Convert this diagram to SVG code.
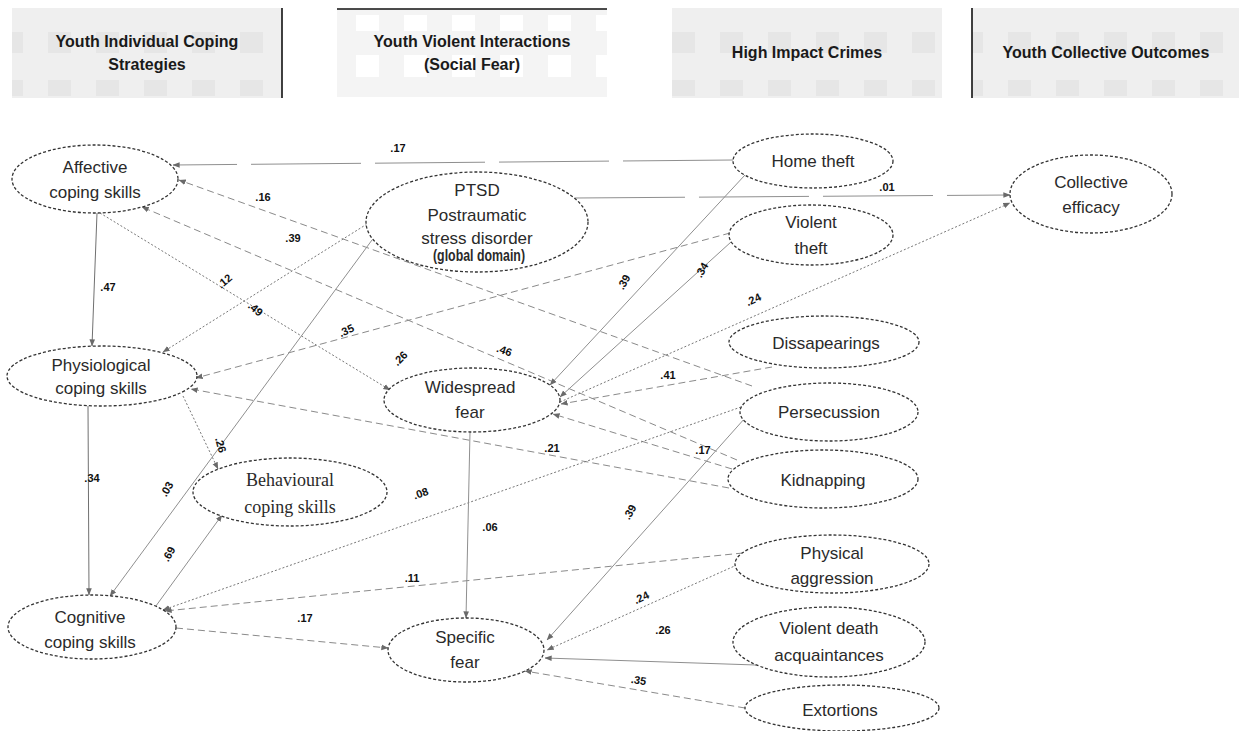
<svg xmlns="http://www.w3.org/2000/svg" width="1239" height="731" viewBox="0 0 1239 731">
<defs>
<pattern id="pg" patternUnits="userSpaceOnUse" x="0" y="0" width="48" height="96">
<rect width="48" height="96" fill="#efefef"/>
<rect x="0" y="32" width="23" height="21" fill="#e6e6e6"/>
<rect x="0" y="80" width="23" height="18" fill="#e6e6e6"/>
</pattern>
<pattern id="pw" patternUnits="userSpaceOnUse" x="20" y="0" width="48" height="96">
<rect width="48" height="96" fill="#f4f4f4"/>
<rect x="0" y="15" width="23" height="16" fill="#ffffff"/>
<rect x="0" y="55" width="23" height="22" fill="#ffffff"/>
</pattern>
<marker id="ah" viewBox="0 0 10 10" refX="9.5" refY="5" markerWidth="7" markerHeight="7" orient="auto">
<path d="M0,1 L10,5 L0,9 z" fill="#6a6a6a"/>
</marker>
</defs>
<style>
.hd{font-family:"Liberation Sans",Arial,sans-serif;font-weight:bold;font-size:16px;fill:#1a1a1a;text-anchor:middle}
.nd ellipse{fill:#ffffff;stroke:#333;stroke-width:1.3;stroke-dasharray:3 2}
.t{font-family:"Liberation Sans",Arial,sans-serif;font-size:17px;fill:#2a2a2a;text-anchor:middle}
.ts{font-family:"Liberation Serif","Times New Roman",serif;font-size:18px;fill:#2a2a2a;text-anchor:middle}
.lb{font-family:"Liberation Sans",Arial,sans-serif;font-size:11px;font-weight:bold;fill:#111;text-anchor:middle}
.c path{fill:none;stroke:#8a8a8a;stroke-width:1;marker-end:url(#ah)}
.c .s{stroke:#8f8f8f}
.c .sd{stroke:#707070}
.c .ld{stroke-dasharray:110 14}
.c .d{stroke-dasharray:7 4}
.c .o{stroke:#777;stroke-dasharray:2 2}
</style>
<rect width="1239" height="731" fill="#ffffff"/>
<g id="headers">
<rect x="12" y="8" width="270" height="90" fill="url(#pg)"/>
<line x1="282" y1="8" x2="282" y2="98" stroke="#111" stroke-width="1.6"/>
<text class="hd" x="147" y="47">Youth Individual Coping</text>
<text class="hd" x="147" y="70">Strategies</text>
<rect x="337" y="9" width="270" height="88" fill="url(#pw)"/>
<line x1="337" y1="9" x2="607" y2="9" stroke="#111" stroke-width="1.6"/>
<text class="hd" x="472" y="47">Youth Violent Interactions</text>
<text class="hd" x="472" y="70">(Social Fear)</text>
<rect x="672" y="8" width="270" height="90" fill="url(#pg)"/>
<text class="hd" x="807" y="58">High Impact Crimes</text>
<rect x="972" y="8" width="267" height="90" fill="url(#pg)"/>
<line x1="972" y1="8" x2="972" y2="98" stroke="#111" stroke-width="1.6"/>
<text class="hd" x="1106" y="58">Youth Collective Outcomes</text>
</g>
<g id="connectors" class="c">
<path class="s ld" d="M733,160 L173,165"/>
<path class="s ld" d="M575,198 L1010,195"/>
<path class="d" d="M752,386 L179,180"/>
<path class="d" d="M737,460 L142,207"/>
<path class="sd" d="M97,213 L92,346"/>
<path class="o" d="M367,224 L163,352"/>
<path class="o" d="M100,213 L390,390"/>
<path class="s" d="M745,175 L550,385"/>
<path class="s" d="M731,242 L560,397"/>
<path class="o" d="M560,402 L1010,203"/>
<path class="d" d="M730,233 L196,378"/>
<path class="d" d="M772,367 L561,404"/>
<path class="d" d="M732,469 L553,414"/>
<path class="d" d="M729,488 L191,389"/>
<path class="sd" d="M88,406 L89,595"/>
<path class="o" d="M183,396 L218,469"/>
<path class="s" d="M372,240 L110,596"/>
<path class="o" d="M741,407 L163,610"/>
<path class="s" d="M470,432 L466,618"/>
<path class="s" d="M770,390 L547,640"/>
<path class="s" d="M153,610 L222,515"/>
<path class="d" d="M743,553 L165,611"/>
<path class="d" d="M176,628 L388,648"/>
<path class="o" d="M748,560 L547,650"/>
<path class="s" d="M756,665 L545,658"/>
<path class="d" d="M745,708 L525,671"/>
</g>
<g id="labels">
<text class="lb" x="398" y="152">.17</text>
<text class="lb" x="887" y="191">.01</text>
<text class="lb" x="263" y="201">.16</text>
<text class="lb" x="293" y="242">.39</text>
<text class="lb" x="108" y="291">.47</text>
<text class="lb" transform="translate(227,284) rotate(-40)">.12</text>
<text class="lb" transform="translate(253,312) rotate(40)">.49</text>
<text class="lb" transform="translate(348,334) rotate(-25)">.35</text>
<text class="lb" transform="translate(403,361) rotate(-45)">.26</text>
<text class="lb" transform="translate(503,354) rotate(20)">.46</text>
<text class="lb" transform="translate(627,284) rotate(-60)">.39</text>
<text class="lb" transform="translate(705,272) rotate(-60)">.34</text>
<text class="lb" transform="translate(755,303) rotate(-25)">.24</text>
<text class="lb" x="668" y="379">.41</text>
<text class="lb" x="552" y="452">.21</text>
<text class="lb" x="703" y="454">.17</text>
<text class="lb" x="92" y="482">.34</text>
<text class="lb" transform="translate(217,446) rotate(75)">.26</text>
<text class="lb" transform="translate(170,491) rotate(-60)">.03</text>
<text class="lb" transform="translate(172,556) rotate(-60)">.69</text>
<text class="lb" transform="translate(422,497) rotate(-20)">.08</text>
<text class="lb" x="490" y="531">.06</text>
<text class="lb" transform="translate(633,514) rotate(-60)">.39</text>
<text class="lb" x="412" y="582">.11</text>
<text class="lb" x="305" y="622">.17</text>
<text class="lb" transform="translate(643,601) rotate(-25)">.24</text>
<text class="lb" x="663" y="634">.26</text>
<text class="lb" transform="translate(638,684) rotate(10)">.35</text>
</g>
<g id="affective" class="nd"><ellipse cx="95" cy="179" rx="83" ry="34"/><text class="t" x="95" y="173">Affective</text><text class="t" x="95" y="198">coping skills</text></g>
<g id="ptsd" class="nd"><ellipse cx="477" cy="222" rx="111" ry="50"/><text class="t" x="477" y="196" font-size="16">PTSD</text><text class="t" x="477" y="221" font-size="16">Postraumatic</text><text class="t" x="477" y="244" font-size="18">stress disorder</text><text class="t" x="479" y="261" font-size="10" font-weight="bold" textLength="92" lengthAdjust="spacingAndGlyphs">(global domain)</text></g>
<g id="home-theft" class="nd"><ellipse cx="813" cy="161" rx="80" ry="27"/><text class="t" x="813" y="167">Home theft</text></g>
<g id="collective-efficacy" class="nd"><ellipse cx="1091" cy="194" rx="81" ry="39"/><text class="t" x="1091" y="188">Collective</text><text class="t" x="1091" y="213">efficacy</text></g>
<g id="violent-theft" class="nd"><ellipse cx="811" cy="235" rx="82" ry="30"/><text class="t" x="811" y="228">Violent</text><text class="t" x="811" y="254">theft</text></g>
<g id="dissapearings" class="nd"><ellipse cx="824" cy="342" rx="95" ry="26"/><text class="t" x="826" y="349">Dissapearings</text></g>
<g id="physiological" class="nd"><ellipse cx="102" cy="376" rx="95" ry="30"/><text class="t" x="101" y="371">Physiological</text><text class="t" x="101" y="394">coping skills</text></g>
<g id="widespread-fear" class="nd"><ellipse cx="472" cy="400" rx="88" ry="32"/><text class="t" x="470" y="393">Widespread</text><text class="t" x="470" y="418">fear</text></g>
<g id="persecussion" class="nd"><ellipse cx="829" cy="412" rx="89" ry="29"/><text class="t" x="829" y="418">Persecussion</text></g>
<g id="kidnapping" class="nd"><ellipse cx="823" cy="479" rx="95" ry="29"/><text class="t" x="823" y="486">Kidnapping</text></g>
<g id="behavioural" class="nd"><ellipse cx="290" cy="492" rx="97" ry="34"/><text class="ts" x="290" y="486">Behavioural</text><text class="ts" x="290" y="513">coping skills</text></g>
<g id="physical-aggression" class="nd"><ellipse cx="832" cy="564" rx="97" ry="29"/><text class="t" x="832" y="559">Physical</text><text class="t" x="832" y="584">aggression</text></g>
<g id="cognitive" class="nd"><ellipse cx="92" cy="627" rx="84" ry="32"/><text class="t" x="90" y="623">Cognitive</text><text class="t" x="90" y="648">coping skills</text></g>
<g id="specific-fear" class="nd"><ellipse cx="466" cy="650" rx="78" ry="32"/><text class="t" x="465" y="643">Specific</text><text class="t" x="465" y="668">fear</text></g>
<g id="violent-death" class="nd"><ellipse cx="829" cy="642" rx="96" ry="35"/><text class="t" x="829" y="634">Violent death</text><text class="t" x="829" y="661">acquaintances</text></g>
<g id="extortions" class="nd"><ellipse cx="842" cy="708" rx="97" ry="23"/><text class="t" x="840" y="716">Extortions</text></g>
</svg>
